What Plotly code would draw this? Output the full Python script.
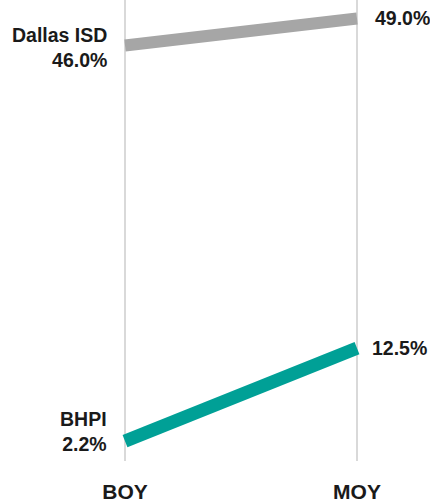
import plotly.graph_objects as go

periods = ["BOY", "MOY"]
dallas_isd = [46.0, 49.0]
bhpi = [2.2, 12.5]
series_names = ["Dallas ISD", "BHPI"]
series_colors = ["#a6a6a6", "#00a096"]

x = [0, 1]
fig = go.Figure()
fig.add_trace(go.Scatter(x=x, y=dallas_isd, mode="lines",
                         line=dict(color=series_colors[0], width=12), hoverinfo="skip"))
fig.add_trace(go.Scatter(x=x, y=bhpi, mode="lines",
                         line=dict(color=series_colors[1], width=13), hoverinfo="skip"))

font = dict(family="Liberation Sans, Arial, sans-serif", size=19.5, color="#1a1a1a")
ann = [
    dict(x=0, y=dallas_isd[0], xanchor="right", yanchor="middle", xshift=-16, yshift=-2,
         text=f"<b>{series_names[0]}<br>{dallas_isd[0]:.1f}%</b>", align="right"),
    dict(x=1, y=dallas_isd[1], xanchor="left", yanchor="middle", xshift=16, yshift=0,
         text=f"<b>{dallas_isd[1]:.1f}%</b>", align="left"),
    dict(x=0, y=bhpi[0], xanchor="right", yanchor="middle", xshift=-16, yshift=10,
         text=f"<b>{series_names[1]}<br>{bhpi[0]:.1f}%</b>", align="right"),
    dict(x=1, y=bhpi[1], xanchor="left", yanchor="middle", xshift=13, yshift=0,
         text=f"<b>{bhpi[1]:.1f}%</b>", align="left"),
]
for a in ann:
    a.update(xref="x", yref="y", showarrow=False, font=font)

fig.update_layout(
    width=430, height=503,
    margin=dict(l=0, r=0, t=0, b=37),
    paper_bgcolor="white", plot_bgcolor="white",
    showlegend=False,
    hovermode=False,
    annotations=ann,
    xaxis=dict(range=[-125/232, 305/232], tickvals=x,
               ticktext=[f"<b>{p}</b>" for p in periods],
               showgrid=True, gridcolor="#d9d9d9", gridwidth=2,
               zeroline=False, showline=False, ticks="", ticklabelstandoff=16,
               tickfont=dict(family="Liberation Sans, Arial, sans-serif", size=21, color="#1a1a1a")),
    yaxis=dict(range=[0, 466/9.13], visible=False, showgrid=False, zeroline=False),
)
fig.write_html("out.html", config={"displayModeBar": False},
               post_script="document.body.style.margin='0';document.body.style.overflow='hidden';")
